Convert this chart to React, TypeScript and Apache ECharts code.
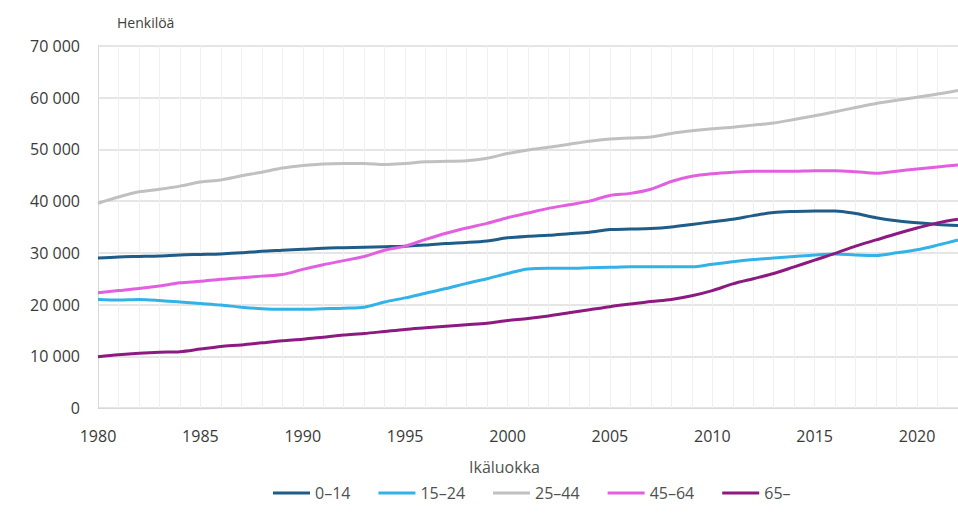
import React, { useEffect, useRef } from "react";
import * as echarts from "echarts";

const years: string[] = [];
for (let y = 1980; y <= 2022; y++) years.push(String(y));

const seriesNames = ["0–14", "15–24", "25–44", "45–64", "65–"];
const seriesColors = ["#1f5c87", "#33b2e8", "#c0c0c0", "#e25fdf", "#8c1a80"];

const age0_14 = [
  29000, 29200, 29300, 29400, 29600, 29700, 29800, 30000, 30300, 30500,
  30700, 30900, 31000, 31100, 31200, 31300, 31500, 31800, 32000, 32300,
  32900, 33200, 33400, 33700, 34000, 34500, 34600, 34700, 35000, 35500,
  36000, 36500, 37200, 37800, 38000, 38100, 38100, 37600, 36800, 36200,
  35800, 35500, 35300,
];
const age15_24 = [
  21000, 20900, 21000, 20800, 20500, 20200, 19900, 19500, 19200, 19100,
  19100, 19200, 19300, 19500, 20500, 21300, 22200, 23100, 24100, 25000,
  26000, 26900, 27000, 27000, 27100, 27200, 27300, 27300, 27300, 27300,
  27800, 28300, 28700, 29000, 29300, 29600, 29800, 29600, 29500, 30000,
  30600, 31500, 32500,
];
const age25_44 = [
  39600, 40800, 41800, 42300, 42900, 43700, 44100, 44900, 45600, 46400,
  46900, 47200, 47300, 47300, 47100, 47300, 47600, 47700, 47800, 48300,
  49200, 49900, 50400, 51000, 51600, 52000, 52200, 52400, 53100, 53600,
  54000, 54300, 54700, 55100, 55800, 56500, 57300, 58100, 58900, 59500,
  60100, 60700, 61400,
];
const age45_64 = [
  22300, 22700, 23100, 23600, 24200, 24500, 24900, 25200, 25500, 25800,
  26800, 27700, 28500, 29300, 30500, 31300, 32600, 33800, 34800, 35700,
  36800, 37700, 38600, 39300, 40000, 41100, 41500, 42300, 43800, 44800,
  45300, 45600, 45800, 45800, 45800, 45900, 45900, 45700, 45400, 45800,
  46200, 46600, 47000,
];
const age65 = [
  9900, 10300, 10600, 10800, 10900, 11400, 11900, 12200, 12600, 13000,
  13300, 13700, 14100, 14400, 14800, 15200, 15500, 15800, 16100, 16400,
  16900, 17300, 17800, 18400, 19000, 19600, 20100, 20600, 21000, 21700,
  22700, 24000, 25000, 26000, 27300, 28600, 29900, 31300, 32500, 33700,
  34800, 35800, 36500,
];

const allData = [age0_14, age15_24, age25_44, age45_64, age65];

const fmt = (v: number) => String(v).replace(/\B(?=(\d{3})+(?!\d))/g, " ");

const FONT = "'Open Sans', 'Noto Sans', sans-serif";

export default function App() {
  const ref = useRef<HTMLDivElement>(null);
  useEffect(() => {
    if (!ref.current) return;
    const chart = echarts.init(ref.current, undefined, { renderer: "svg" });
    chart.setOption({
      animation: false,
      backgroundColor: "#ffffff",
      textStyle: { fontFamily: FONT },
      title: [
        {
          text: "Henkilöä",
          left: 112,
          top: 10,
          textStyle: { fontSize: 14, fontWeight: "normal", color: "#404040", fontFamily: FONT },
        },
        {
          text: "Ikäluokka",
          left: 464,
          top: 454,
          textStyle: { fontSize: 16, fontWeight: "normal", color: "#505050", fontFamily: FONT },
        },
      ],
      legend: {
        left: 268,
        top: 480,
        icon: "rect",
        itemWidth: 37,
        itemHeight: 3,
        itemGap: 28,
        textStyle: { fontSize: 16, color: "#505050", fontFamily: FONT },
        data: seriesNames,
      },
      grid: { left: 98, right: -5, top: 46, bottom: 115 },
      xAxis: {
        type: "category",
        data: years,
        boundaryGap: false,
        axisLine: { show: true, lineStyle: { color: "#d9d9d9", width: 1 } },
        axisTick: { show: false },
        axisLabel: {
          interval: 4,
          margin: 20,
          fontSize: 16,
          color: "#3a3a3a",
          fontFamily: FONT,
        },
        splitLine: { show: true, interval: 0, lineStyle: { color: "#f0f0f0", width: 1 } },
      },
      yAxis: {
        type: "value",
        min: 0,
        max: 70000,
        interval: 10000,
        axisLine: { show: true, lineStyle: { color: "#d9d9d9", width: 1 } },
        axisTick: { show: false },
        axisLabel: {
          margin: 18,
          fontSize: 16,
          color: "#3a3a3a",
          fontFamily: FONT,
          formatter: (v: number) => fmt(v),
        },
        splitLine: { show: true, lineStyle: { color: "#dcdcdc", width: 1.5 } },
      },
      series: seriesNames.map((name, i) => ({
        name,
        type: "line",
        data: allData[i],
        symbol: "none",
        smooth: 0.3,
        lineStyle: { color: seriesColors[i], width: 3 },
        itemStyle: { color: seriesColors[i] },
      })),
    });
    return () => chart.dispose();
  }, []);
  return (
    <div
      ref={ref}
      style={{ position: "fixed", left: 0, top: 0, width: 958, height: 523 }}
    />
  );
}
